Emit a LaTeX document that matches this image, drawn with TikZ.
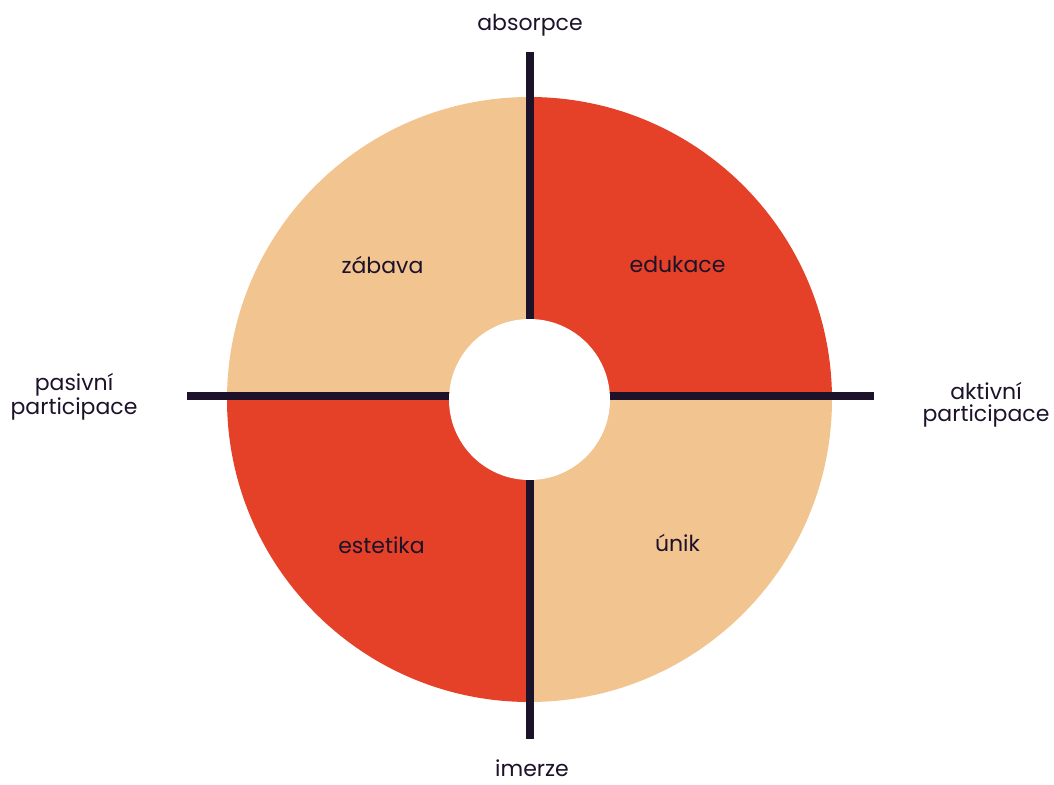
\documentclass[tikz,border=0pt]{standalone}
\usepackage{fontspec}
\setmainfont{Poppins}
\usepackage{tikz}
\definecolor{peach}{HTML}{F2C48F}
\definecolor{rouge}{HTML}{E54128}
\definecolor{ink}{HTML}{1C1229}

\begin{document}
\begin{tikzpicture}[line cap=butt,line join=round,x=0.75pt,y=-0.75pt,
  axis/.style={line width=6pt,color=ink},
  lab/.style={text=ink,font=\fontsize{16.5}{16.2}\selectfont,align=center,inner sep=0pt}]
\useasboundingbox (0,0) rectangle (1054,785);
\coordinate (c) at (529.5,399.5);
\foreach \a/\col in {0/peach,90/rouge,180/peach,270/rouge}
\fill[color=\col] (c) -- ++(\a:302.5) arc[start angle=\a,end angle=\a+90,radius=302.5] -- cycle;
\coordinate (top) at (530,52);
\coordinate (bot) at (530,739);
\coordinate (lft) at (187,395.5);
\coordinate (rgt) at (874,395.5);
\draw[axis] (top) -- (bot);
\draw[axis] (lft) -- (rgt);
\fill[white] (c) circle (80.5);
\node[lab,anchor=base] (absorpce) at (530,30.5) {absorpce};
\node[lab,anchor=base] (imerze) at (532,776) {imerze};
\node[lab] (pasivni) at (74,397) {pasivní\\participace};
\node[lab] (aktivni) at (986,405) {aktivní\\participace};
\node[lab,anchor=base] (zabava) at (382.5,273) {zábava};
\node[lab,anchor=base] (edukace) at (677.5,272.7) {edukace};
\node[lab,anchor=base] (estetika) at (381.5,553) {estetika};
\node[lab,anchor=base] (unik) at (677.5,551.7) {únik};
\end{tikzpicture}
\end{document}
